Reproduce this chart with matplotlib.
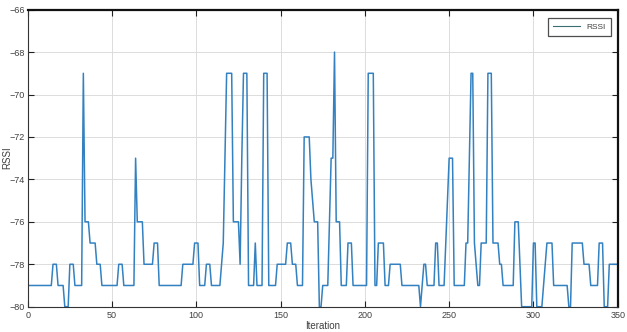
import numpy as np
import matplotlib
matplotlib.use("Agg")
import matplotlib.pyplot as plt

plt.rcParams['font.family'] = ['Liberation Sans', 'DejaVu Sans']

# RSSI readings as runs of (level, number of consecutive iterations)
run_values = [
    -79, -78, -79, -80, -78, -79, -69, -76, -77, -78,
    -79, -78, -79, -73, -76, -78, -77, -79, -78, -77,
    -79, -78, -79, -78, -77, -73, -69, -76, -78, -73,
    -69, -79, -77, -79, -69, -79, -78, -77, -78, -79,
    -72, -74, -75, -76, -80, -79, -76, -73, -68, -76,
    -79, -77, -79, -69, -79, -77, -79, -78, -79, -80,
    -79, -78, -79, -77, -79, -77, -75, -73, -79, -77,
    -73, -69, -77, -78, -79, -77, -69, -77, -78, -79,
    -76, -78, -80, -77, -80, -79, -78, -77, -79, -80,
    -77, -78, -79, -77, -80, -78,
]
run_lengths = [
    15, 3, 4, 3, 3, 5, 1, 3, 4, 3,
    10, 3, 7, 1, 4, 6, 3, 14, 7, 3,
    4, 3, 6, 1, 1, 1, 4, 4, 1, 1,
    3, 4, 1, 4, 3, 5, 6, 3, 3, 4,
    4, 1, 1, 3, 2, 4, 1, 2, 1, 3,
    4, 3, 9, 4, 2, 4, 3, 7, 11, 1,
    1, 2, 5, 2, 4, 1, 1, 3, 7, 2,
    1, 2, 1, 1, 2, 4, 3, 4, 2, 7,
    3, 1, 7, 2, 4, 1, 1, 4, 9, 2,
    7, 4, 5, 3, 3, 6,
]
rssi = np.repeat(run_values, run_lengths)
iteration = np.arange(len(rssi))

x_ticks = [0, 50, 100, 150, 200, 250, 300, 350]
y_ticks = [-80, -78, -76, -74, -72, -70, -68, -66]

fig = plt.figure(figsize=(6.27, 3.32), dpi=100)
ax = fig.add_axes([0.0442, 0.0762, 0.9410, 0.8948])

ax.plot(iteration, rssi, color='#3381c0', lw=1.1, label='RSSI')

ax.set_xlim(0, 350)
ax.set_ylim(-80, -66)
ax.set_xticks(x_ticks)
ax.set_yticks(y_ticks)
ax.grid(True, color='#dcdcdc', lw=0.7)
ax.set_axisbelow(True)

ax.tick_params(direction='in', length=4, width=0.8, labelsize=6.5,
               labelcolor='#404040', color='#202020',
               top=True, right=True)
ax.tick_params(axis='y', pad=2)
ax.tick_params(axis='x', pad=3)
for side in ['left', 'bottom']:
    ax.spines[side].set_color('#333333')
    ax.spines[side].set_linewidth(0.8)
for side in ['top', 'right']:
    ax.spines[side].set_color('#111111')
    ax.spines[side].set_linewidth(1.6)

ax.set_xlabel('Iteration', fontsize=7, color='#404040', labelpad=1)
ax.set_ylabel('RSSI', fontsize=7, color='#404040')
ax.yaxis.set_label_coords(-0.027, 0.5)

leg = ax.legend(loc='upper right', fontsize=6, frameon=True, fancybox=False,
                edgecolor='#222222', handlelength=3.2, borderpad=0.6,
                bbox_to_anchor=(0.995, 0.985))
leg.get_frame().set_linewidth(0.9)
for h in leg.get_lines():
    h.set_color('#3b6e6e')
    h.set_linewidth(0.8)
for t in leg.get_texts():
    t.set_color('#404040')

fig.savefig('out.png', dpi=100)
